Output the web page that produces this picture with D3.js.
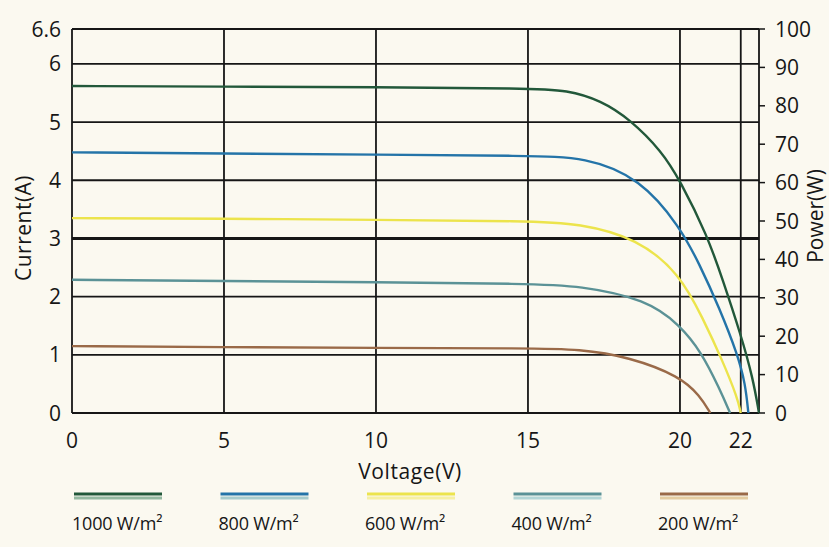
<!DOCTYPE html>
<html>
<head>
<meta charset="utf-8">
<script src="https://cdn.jsdelivr.net/npm/d3@7"></script>
<style>
  body { margin: 0; background: #fbf9f0; }
  svg { display: block; font-family: "Open Sans", "Noto Sans", sans-serif; }
</style>
</head>
<body>
<svg id="chart" width="829" height="547"></svg>
<script>
// values (voltage in V, current in A)
const irradiance = ['1000 W/m²', '800 W/m²', '600 W/m²', '400 W/m²', '200 W/m²'];
const colors = ['#22583a', '#2474a8', '#ece44c', '#5b9296', '#9a6a48'];
const lightColors = ['#94b8a0', '#a8cccc', '#f6f0a4', '#b4d6d6', '#e4cda2'];

const v1000 = [0, 5, 10, 15, 16.3, 17.4, 18.35, 19.4, 20, 20.9, 21.4, 22, 22.4, 22.6];
const i1000 = [5.62, 5.61, 5.6, 5.58, 5.55, 5.37, 5.05, 4.5, 4.0, 3.05, 2.3, 1.35, 0.6, 0];
const v800 = [0, 5, 10, 15, 16.9, 18.7, 20, 20.65, 21.3, 21.9, 22.15, 22.25];
const i800 = [4.48, 4.46, 4.44, 4.42, 4.4, 4.03, 3.2, 2.55, 1.8, 1.0, 0.5, 0];
const v600 = [0, 5, 10, 15, 16.7, 18.6, 20, 20.75, 21.4, 21.9, 22.0];
const i600 = [3.35, 3.34, 3.32, 3.3, 3.26, 3.0, 2.39, 1.63, 0.9, 0.25, 0];
const v400 = [0, 5, 10, 15, 16.7, 18.9, 20, 20.7, 21.3, 21.65];
const i400 = [2.29, 2.27, 2.25, 2.22, 2.19, 1.95, 1.51, 1.05, 0.42, 0];
const v200 = [0, 5, 10, 15, 16.7, 18.35, 20, 20.65, 21.0];
const i200 = [1.15, 1.13, 1.12, 1.11, 1.1, 0.96, 0.63, 0.3, 0];

const voltages = [v1000, v800, v600, v400, v200];
const currents = [i1000, i800, i600, i400, i200];

const xTicks = [0, 5, 10, 15, 20, 22];
const yTicks = [0, 1, 2, 3, 4, 5, 6, 6.6];
const powerTicks = [0, 10, 20, 30, 40, 50, 60, 70, 80, 90, 100];

const svg = d3.select('#chart');
const margin = {top: 29, right: 70, bottom: 134, left: 72};
const width = 829, height = 547;
const ink = '#161616';

const x = d3.scaleLinear().domain([0, 22.6]).range([margin.left, width - margin.right]);
const y = d3.scaleLinear().domain([0, 6.6]).range([height - margin.bottom, margin.top]);
const yPower = d3.scaleLinear().domain([0, 100]).range([height - margin.bottom, margin.top]);

const grid = svg.append('g').attr('stroke', ink);

// horizontal grid lines
grid.selectAll('line.h')
  .data(yTicks)
  .enter().append('line')
  .attr('class', 'h')
  .attr('x1', x(0)).attr('x2', x(22.6))
  .attr('y1', d => y(d)).attr('y2', d => y(d))
  .attr('stroke-width', d => d === 3 ? 3 : 1.8);

// vertical grid lines
grid.selectAll('line.v')
  .data(xTicks.concat([22.6]))
  .enter().append('line')
  .attr('class', 'v')
  .attr('x1', d => x(d)).attr('x2', d => x(d))
  .attr('y1', y(0)).attr('y2', y(6.6))
  .attr('stroke-width', 1.8);

// curves
const line = d3.line()
  .x(d => x(d[0]))
  .y(d => y(d[1]))
  .curve(d3.curveBasis);

const series = voltages.map((vs, k) => vs.map((v, j) => [v, currents[k][j]]));

svg.append('g').selectAll('path')
  .data(series)
  .enter().append('path')
  .attr('d', line)
  .attr('fill', 'none')
  .attr('stroke', (d, k) => colors[k])
  .attr('stroke-width', 2.4);

// left axis labels
svg.append('g').selectAll('text')
  .data(yTicks)
  .enter().append('text')
  .attr('x', 61)
  .attr('y', d => y(d) + 7.5)
  .attr('text-anchor', 'end')
  .attr('font-size', 21)
  .attr('fill', ink)
  .text(d => d);

// bottom axis labels
svg.append('g').selectAll('text')
  .data(xTicks)
  .enter().append('text')
  .attr('x', d => x(d))
  .attr('y', 448)
  .attr('text-anchor', 'middle')
  .attr('font-size', 21)
  .attr('fill', ink)
  .text(d => d);

// right axis (power)
const right = svg.append('g')
  .attr('transform', `translate(${x(22.6)},0)`);
right.selectAll('line')
  .data(powerTicks)
  .enter().append('line')
  .attr('x1', 0).attr('x2', 6)
  .attr('y1', d => yPower(d)).attr('y2', d => yPower(d))
  .attr('stroke', ink)
  .attr('stroke-width', 1.5);
right.selectAll('text')
  .data(powerTicks)
  .enter().append('text')
  .attr('x', 16)
  .attr('y', d => yPower(d) + 7.5)
  .attr('font-size', 21)
  .attr('fill', ink)
  .text(d => d);

// axis titles
svg.append('text')
  .attr('transform', 'translate(31,228) rotate(-90)')
  .attr('text-anchor', 'middle')
  .attr('font-size', 21)
  .attr('letter-spacing', 0.5)
  .attr('fill', ink)
  .text('Current(A)');

svg.append('text')
  .attr('transform', 'translate(823,216) rotate(-90)')
  .attr('text-anchor', 'middle')
  .attr('font-size', 21)
  .attr('fill', ink)
  .text('Power(W)');

svg.append('text')
  .attr('x', 410)
  .attr('y', 479)
  .attr('text-anchor', 'middle')
  .attr('font-size', 21)
  .attr('letter-spacing', 0.6)
  .attr('fill', ink)
  .text('Voltage(V)');

// legend
const legendX = d3.scalePoint().domain(irradiance).range([74, 660]);
const legend = svg.append('g').selectAll('g')
  .data(irradiance)
  .enter().append('g')
  .attr('transform', d => `translate(${legendX(d)},0)`);

legend.append('line')
  .attr('x1', 0).attr('x2', 88)
  .attr('y1', 498).attr('y2', 498)
  .attr('stroke', (d, k) => lightColors[k])
  .attr('stroke-width', 3);
legend.append('line')
  .attr('x1', 0).attr('x2', 88)
  .attr('y1', 494).attr('y2', 494)
  .attr('stroke', (d, k) => colors[k])
  .attr('stroke-width', 3);
legend.append('text')
  .attr('x', -2)
  .attr('y', 530)
  .attr('font-size', 18)
  .attr('letter-spacing', -0.2)
  .attr('fill', ink)
  .text(d => d);
</script>
</body>
</html>
